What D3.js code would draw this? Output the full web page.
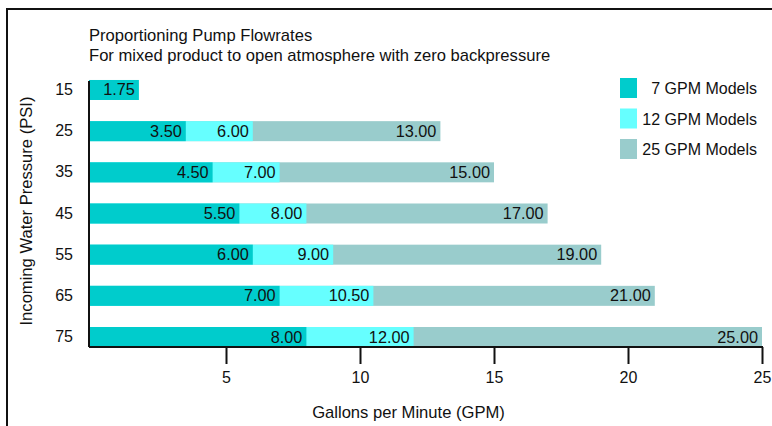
<!DOCTYPE html>
<html>
<head>
<meta charset="utf-8">
<script src="https://cdn.jsdelivr.net/npm/d3@7"></script>
<style>
  body { margin: 0; background: #fff; }
  svg { display: block; font-family: "Liberation Sans", Arial, Helvetica, sans-serif; }
  text { fill: #111; }
</style>
</head>
<body>
<svg id="chart"></svg>
<script>
// pressures (PSI) on the category axis
const pressures = ['15', '25', '35', '45', '55', '65', '75'];
const seriesNames = ['7 GPM Models', '12 GPM Models', '25 GPM Models'];
const seriesColors = ['#00cccc', '#66ffff', '#99cccc'];
// flowrates per series, null where there is no bar
const gpm7 = [1.75, 3.50, 4.50, 5.50, 6.00, 7.00, 8.00];
const gpm12 = [null, 6.00, 7.00, 8.00, 9.00, 10.50, 12.00];
const gpm25 = [null, 13.00, 15.00, 17.00, 19.00, 21.00, 25.00];
const xTicks = [5, 10, 15, 20, 25];

const width = 772, height = 426;

function makeChart() {
  const svg = d3.select('#chart').attr('width', width).attr('height', height);

  // outer frame, runs past the right and bottom edges
  svg.append('rect')
    .attr('x', 7).attr('y', 9)
    .attr('width', 800).attr('height', 450)
    .attr('fill', 'none').attr('stroke', '#111').attr('stroke-width', 2);

  svg.append('text').attr('x', 89).attr('y', 41)
    .style('font-size', '16.6px').text('Proportioning Pump Flowrates');
  svg.append('text').attr('x', 89).attr('y', 61)
    .style('font-size', '16.6px').text('For mixed product to open atmosphere with zero backpressure');

  const x = d3.scaleLinear().domain([0, 25]).range([92, 762]);
  const y = d3.scaleBand().domain(pressures)
    .range([69.4, 357.6]).paddingInner(0.514).paddingOuter(0.257);

  const axisX = 89;
  const axisY = y(pressures[pressures.length - 1]) + y.bandwidth();

  // draw largest series first so smaller ones sit on top
  const series = [
    { name: seriesNames[2], color: seriesColors[2], values: gpm25 },
    { name: seriesNames[1], color: seriesColors[1], values: gpm12 },
    { name: seriesNames[0], color: seriesColors[0], values: gpm7 }
  ];

  series.forEach(s => {
    const rows = pressures.map((p, i) => ({ p: p, v: s.values[i] })).filter(d => d.v != null);
    const g = svg.append('g');
    g.selectAll('rect').data(rows).enter().append('rect')
      .attr('x', axisX)
      .attr('y', d => y(d.p))
      .attr('width', d => x(d.v) - axisX)
      .attr('height', y.bandwidth())
      .attr('fill', s.color);
  });

  // value labels at the end of each bar
  series.forEach(s => {
    const rows = pressures.map((p, i) => ({ p: p, v: s.values[i] })).filter(d => d.v != null);
    svg.append('g').selectAll('text').data(rows).enter().append('text')
      .attr('x', d => x(d.v) - 4)
      .attr('y', d => y(d.p) + y.bandwidth() / 2 + 5.5)
      .attr('text-anchor', 'end')
      .style('font-size', '16.3px')
      .text(d => d.v.toFixed(2));
  });

  // y axis
  const yAxis = d3.axisLeft(y).tickSize(0).tickPadding(16);
  const yg = svg.append('g').attr('transform', `translate(${axisX},0)`).call(yAxis);
  yg.select('.domain').remove();
  yg.selectAll('text').style('font-size', '16px').attr('fill', '#111');
  svg.append('line')
    .attr('x1', axisX).attr('x2', axisX)
    .attr('y1', y(pressures[0]) + 1).attr('y2', axisY)
    .attr('stroke', '#111').attr('stroke-width', 2);

  // x axis
  const xAxis = d3.axisBottom(x).tickValues(xTicks).tickSize(17).tickPadding(8);
  const xg = svg.append('g').attr('transform', `translate(0,${axisY})`).call(xAxis);
  xg.select('.domain').remove();
  xg.selectAll('.tick line').attr('stroke', '#111').attr('stroke-width', 2);
  xg.selectAll('text').style('font-size', '16px').attr('fill', '#111');
  svg.append('line')
    .attr('x1', axisX).attr('x2', x(25) + 1)
    .attr('y1', axisY).attr('y2', axisY)
    .attr('stroke', '#111').attr('stroke-width', 2);

  svg.append('text').attr('x', 408.5).attr('y', 418)
    .attr('text-anchor', 'middle').style('font-size', '16.6px')
    .text('Gallons per Minute (GPM)');
  svg.append('text')
    .attr('transform', 'translate(32,211) rotate(-90)')
    .attr('text-anchor', 'middle').style('font-size', '16.6px')
    .text('Incoming Water Pressure (PSI)');

  // legend
  const legend = svg.append('g').selectAll('g').data(seriesNames).enter().append('g')
    .attr('transform', (d, i) => `translate(0,${78 + i * 30.5})`);
  legend.append('rect')
    .attr('x', 620).attr('y', 0).attr('width', 17).attr('height', 20)
    .attr('fill', (d, i) => seriesColors[i]);
  legend.append('text')
    .attr('x', 757).attr('y', 16)
    .attr('text-anchor', 'end').style('font-size', '16px')
    .text(d => d);
}

makeChart();
</script>
</body>
</html>
